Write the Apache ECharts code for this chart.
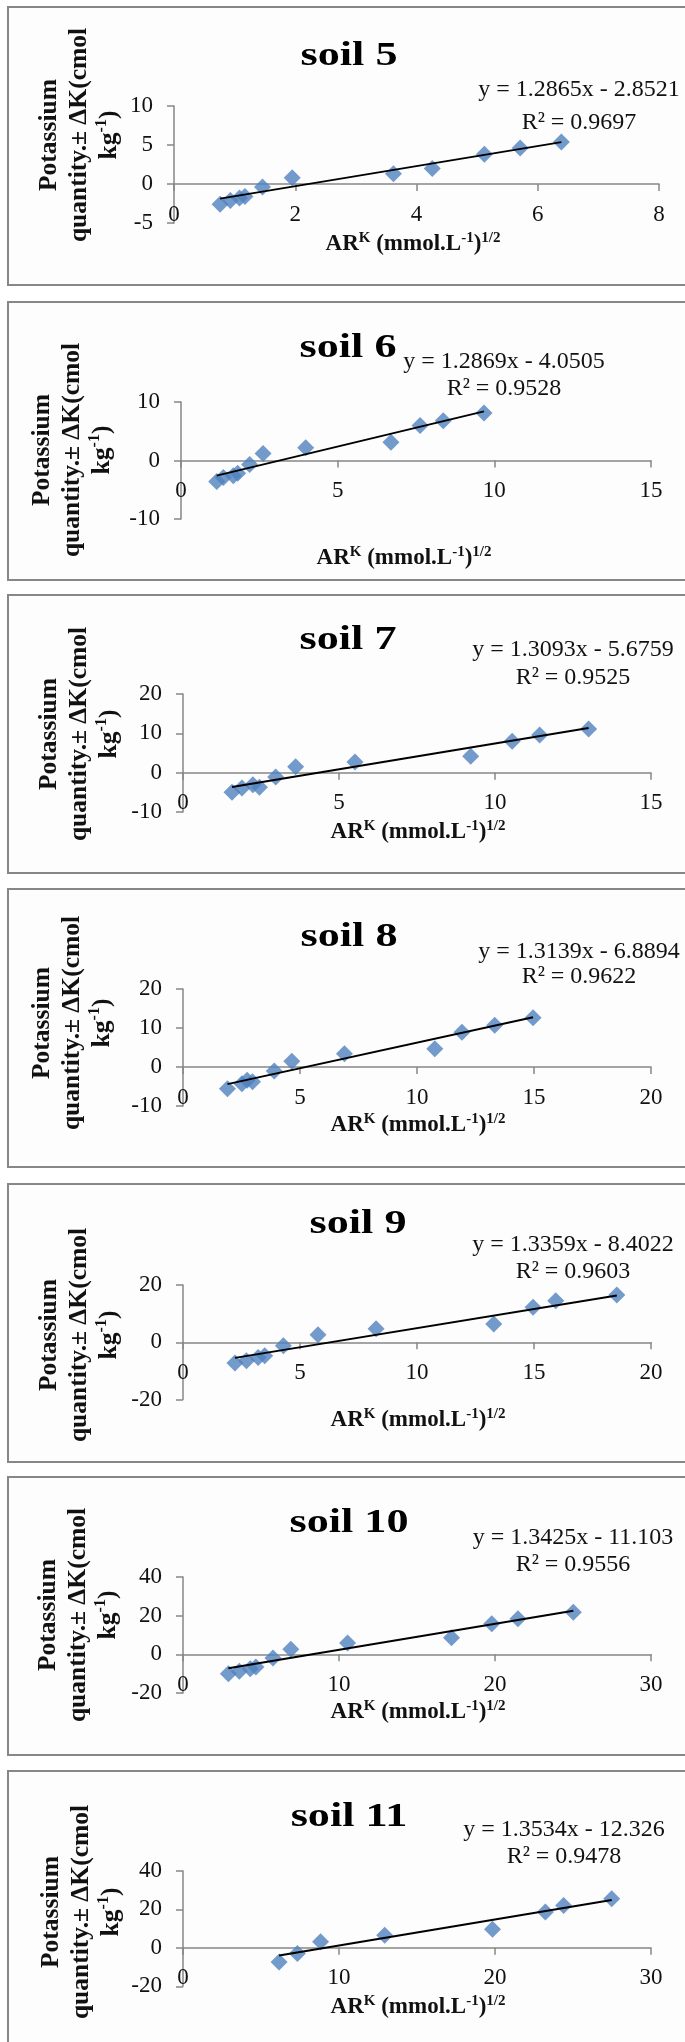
<!DOCTYPE html>
<html><head><meta charset="utf-8">
<script src="https://cdn.jsdelivr.net/npm/echarts@6/dist/echarts.min.js"></script>
<style>html,body{margin:0;padding:0;background:#fff}#c{width:685px;height:2042px}</style>
</head><body><div id="c"></div>
<script>
// ---------- DATA ----------
const soilNames = ['soil 5', 'soil 6', 'soil 7', 'soil 8', 'soil 9', 'soil 10', 'soil 11'];

const arK_soil5  = [0.76, 0.93, 1.08, 1.17, 1.46, 1.95, 3.62, 4.26, 5.12, 5.71, 6.39];
const dK_soil5   = [-2.6, -2.1, -1.8, -1.6, -0.4, 0.8, 1.3, 2.0, 3.8, 4.6, 5.4];
const arK_soil6  = [1.14, 1.35, 1.67, 1.81, 2.19, 2.62, 3.98, 6.70, 7.63, 8.37, 9.67];
const dK_soil6   = [-3.6, -2.9, -2.6, -2.2, -0.7, 1.2, 2.2, 3.1, 6.0, 6.8, 8.1];
const arK_soil7  = [1.57, 1.89, 2.24, 2.45, 2.97, 3.61, 5.51, 9.22, 10.55, 11.43, 13.0];
const dK_soil7   = [-5.0, -3.9, -3.1, -3.7, -1.1, 1.5, 2.7, 4.2, 8.0, 9.6, 11.1];
const arK_soil8  = [1.90, 2.52, 2.74, 2.97, 3.90, 4.65, 6.90, 10.76, 11.92, 13.32, 14.96];
const dK_soil8   = [-5.6, -4.3, -3.4, -3.8, -1.0, 1.5, 3.4, 4.7, 8.9, 10.7, 12.6];
const arK_soil9  = [2.22, 2.71, 3.21, 3.49, 4.29, 5.77, 8.25, 13.28, 14.96, 15.93, 18.54];
const dK_soil9   = [-7.2, -6.4, -5.3, -4.7, -1.2, 2.6, 4.7, 6.4, 12.2, 14.5, 16.5];
const arK_soil10 = [2.91, 3.61, 4.31, 4.67, 5.77, 6.91, 10.55, 17.21, 19.79, 21.47, 25.02];
const dK_soil10  = [-10.0, -8.8, -7.4, -6.5, -1.9, 2.6, 5.8, 8.6, 15.8, 18.4, 21.8];
const arK_soil11 = [6.16, 7.33, 8.82, 12.93, 19.84, 23.23, 24.40, 27.48];
const dK_soil11  = [-7.3, -2.9, 3.2, 6.6, 9.7, 18.7, 22.1, 25.6];

// trendline equations printed on the chart
const slopes     = [1.2865, 1.2869, 1.3093, 1.3139, 1.3359, 1.3425, 1.3534];
const intercepts = [-2.8521, -4.0505, -5.6759, -6.8894, -8.4022, -11.103, -12.326];
const r2Values   = [0.9697, 0.9528, 0.9525, 0.9622, 0.9603, 0.9556, 0.9478];

// axis ticks
const xMaxes     = [8, 15, 15, 20, 20, 30, 30];
const xIntervals = [2, 5, 5, 5, 5, 10, 10];
const yMins      = [-5, -10, -10, -10, -20, -20, -20];
const yMaxes     = [10, 10, 20, 20, 20, 40, 40];
const yIntervals = [5, 10, 10, 10, 20, 20, 20];

const xValues = [arK_soil5, arK_soil6, arK_soil7, arK_soil8, arK_soil9, arK_soil10, arK_soil11];
const yValues = [dK_soil5, dK_soil6, dK_soil7, dK_soil8, dK_soil9, dK_soil10, dK_soil11];

// ---------- LAYOUT ----------
const layout = [
  {top:7,    left:174, right:26, gTop:106,  gH:117,   tx:349, ty:56,   ex:579, e1:90,   e2:123,  yx:79, yy:135,  xx:413, xy:244},
  {top:302,  left:181, right:34, gTop:402,  gH:117,   tx:348, ty:348,  ex:504, e1:362,  e2:389,  yx:72, yy:450,  xx:404, xy:558},
  {top:595,  left:183, right:34, gTop:694,  gH:118,   tx:348, ty:640,  ex:573, e1:650,  e2:678,  yx:79, yy:734,  xx:418, xy:832},
  {top:889,  left:183, right:34, gTop:989,  gH:117,   tx:349, ty:937,  ex:579, e1:952,  e2:977,  yx:72, yy:1023, xx:418, xy:1125},
  {top:1184, left:183, right:34, gTop:1285, gH:114.6, tx:358, ty:1224, ex:573, e1:1245, e2:1272, yx:79, yy:1335, xx:418, xy:1420},
  {top:1477, left:183, right:34, gTop:1577, gH:116,   tx:349, ty:1523, ex:573, e1:1538, e2:1565, yx:78, yy:1615, xx:418, xy:1712},
  {top:1771, left:183, right:34, gTop:1871, gH:115.3, tx:349, ty:1817, ex:564, e1:1830, e2:1857, yx:81, yy:1912, xx:418, xy:2007}
];

const SERIF = '"Liberation Serif", "Times New Roman", serif';
const AXIS_COLOR = '#868686';
const POINT_COLOR = '#4f81bd';

const grids = [], xAxes = [], yAxes = [], series = [], graphics = [];

soilNames.forEach((name, i) => {
  const L = layout[i];
  grids.push({left: L.left, right: L.right, top: L.gTop, height: L.gH, outerBoundsMode: 'none', containLabel: false});
  // the horizontal axis crosses the vertical axis at 0: lift it from the grid bottom to the zero line
  const zeroLift = L.gH * (0 - yMins[i]) / (yMaxes[i] - yMins[i]);
  xAxes.push({
    type: 'value', gridIndex: i, min: 0, max: xMaxes[i], interval: xIntervals[i],
    position: 'bottom', offset: -zeroLift,
    axisLine: {show: true, onZero: false, lineStyle: {color: AXIS_COLOR, width: 1.5}},
    axisTick: {show: true, length: 7, inside: false, lineStyle: {color: AXIS_COLOR, width: 1.5}},
    axisLabel: {margin: 19, color: '#111', fontFamily: SERIF, fontSize: 23, showMinLabel: true, showMaxLabel: true},
    splitLine: {show: false}
  });
  yAxes.push({
    type: 'value', gridIndex: i, min: yMins[i], max: yMaxes[i], interval: yIntervals[i],
    axisLine: {show: true, onZero: false, lineStyle: {color: AXIS_COLOR, width: 1.5}},
    axisTick: {show: true, length: 7, inside: false, lineStyle: {color: AXIS_COLOR, width: 1.5}},
    axisLabel: {margin: 21, color: '#111', fontFamily: SERIF, fontSize: 23},
    splitLine: {show: false}
  });
  const xs = xValues[i], ys = yValues[i];
  series.push({
    type: 'scatter', xAxisIndex: i, yAxisIndex: i, symbol: 'diamond', symbolSize: 17,
    itemStyle: {color: POINT_COLOR}, z: 2,
    data: xs.map((v, j) => [v, ys[j]])
  });
  const x0 = Math.min(...xs), x1 = Math.max(...xs);
  series.push({
    type: 'line', xAxisIndex: i, yAxisIndex: i, showSymbol: false, symbol: 'none', z: 3,
    lineStyle: {color: '#000', width: 2}, silent: true,
    data: [[x0, slopes[i] * x0 + intercepts[i]], [x1, slopes[i] * x1 + intercepts[i]]]
  });

  // panel frame
  graphics.push({type: 'rect', z: -100, silent: true,
    shape: {x: 8, y: L.top, width: 700, height: 278},
    style: {fill: '#fdfdfd', stroke: '#878787', lineWidth: 2}});
  // panel title
  graphics.push({type: 'text', z: 100, x: L.tx, y: L.ty, scaleX: 1.3,
    style: {text: name, fontFamily: SERIF, fontWeight: 'bold', fontSize: 34, fill: '#000',
            align: 'center', verticalAlign: 'middle'}});
  // trendline equation
  const sign = intercepts[i] < 0 ? ' - ' : ' + ';
  graphics.push({type: 'text', z: 100, x: L.ex, y: L.e1,
    style: {text: 'y = ' + slopes[i].toFixed(4) + 'x' + sign + Math.abs(intercepts[i]),
            fontFamily: SERIF, fontSize: 24, fill: '#111', align: 'center', verticalAlign: 'middle'}});
  graphics.push({type: 'text', z: 100, x: L.ex, y: L.e2,
    style: {text: 'R\u00b2 = ' + r2Values[i].toFixed(4),
            fontFamily: SERIF, fontSize: 24, fill: '#111', align: 'center', verticalAlign: 'middle'}});
  // y axis title (rotated, 3 lines)
  graphics.push({type: 'text', z: 100, x: L.yx, y: L.yy, rotation: Math.PI / 2,
    style: {text: 'Potassium\nquantity.\u00b1 \u0394K(cmol\nkg{sup|-1})',
            fontFamily: SERIF, fontWeight: 'bold', fontSize: 25.5, lineHeight: 30, fill: '#111',
            align: 'center', verticalAlign: 'middle',
            rich: {sup: {fontFamily: SERIF, fontWeight: 'bold', fontSize: 16, lineHeight: 14, verticalAlign: 'top', fill: '#111'}}}});
  // x axis title
  graphics.push({type: 'text', z: 100, x: L.xx, y: L.xy,
    style: {text: 'AR{sup|K} (mmol.L{sup|-1}){sup|1/2}',
            fontFamily: SERIF, fontWeight: 'bold', fontSize: 23, lineHeight: 26, fill: '#111',
            align: 'center', verticalAlign: 'middle',
            rich: {sup: {fontFamily: SERIF, fontWeight: 'bold', fontSize: 15, lineHeight: 13, verticalAlign: 'top', fill: '#111'}}}});
});

const chart = echarts.init(document.getElementById('c'), null, {renderer: 'canvas'});
chart.setOption({
  animation: false,
  backgroundColor: '#ffffff',
  grid: grids, xAxis: xAxes, yAxis: yAxes, series: series, graphic: graphics
});
</script></body></html>
